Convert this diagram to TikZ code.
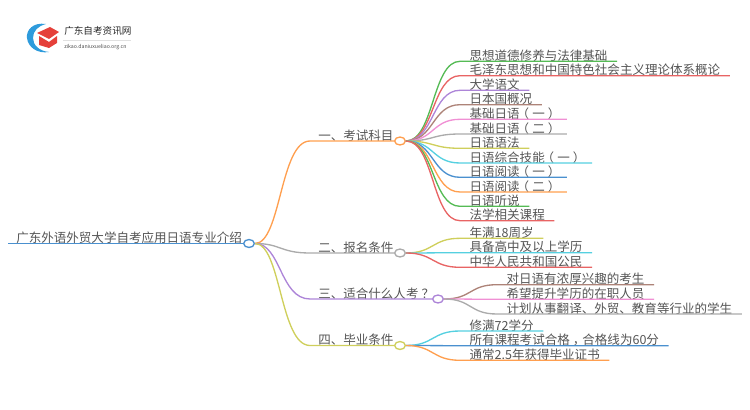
\documentclass[tikz,border=0pt]{standalone}
\usepackage{fontspec}
\usetikzlibrary{shapes.geometric}
\setmainfont{Noto Sans CJK SC}
\definecolor{txtgray}{HTML}{555555}
\definecolor{lorange}{HTML}{FF9F4F}
\definecolor{lgreen}{HTML}{55BB55}
\definecolor{lred}{HTML}{E86464}
\definecolor{lpurple}{HTML}{AD85D8}
\definecolor{lbrown}{HTML}{AD8378}
\definecolor{lpink}{HTML}{F090D4}
\definecolor{lgray}{HTML}{ABABAB}
\definecolor{lyellow}{HTML}{CFCF5C}
\definecolor{lcyan}{HTML}{55D0E0}
\definecolor{lblue}{HTML}{4A90CF}
\definecolor{logoblue}{HTML}{2E9BDC}
\definecolor{logored}{HTML}{E5403A}
\newcommand{\lpar}{\kern-.25em （\kern.25em }
\newcommand{\rpar}{\kern.25em ）\kern-.25em }
\newcommand{\qmark}{\kern.25em ？\kern-.25em }
\newcommand{\cmark}{\kern.25em ，\kern-.25em }
\tikzset{
  item/.style={anchor=south west, inner xsep=7pt, inner ysep=0pt, text height=8.5pt, text depth=0.5pt,
    text=txtgray, font=\fontsize{9.4pt}{11pt}\selectfont},
  hub/.style={ellipse, draw, fill=white, line width=1pt, minimum width=8pt, minimum height=6pt, inner sep=0pt},
  link/.style={line width=1pt},
}
\begin{document}
\begin{tikzpicture}[x=0.75pt, y=-0.75pt]
   \useasboundingbox (0,0) rectangle (750,410);
   % logo
   \fill[logoblue] (46,24) .. controls (33,22) and (26,30) .. (27,38) .. controls (28,47) and (37,54) .. (49,52)
      .. controls (39,51) and (33,45) .. (33,38) .. controls (33,31) and (38,26) .. (46,24);
   \fill[logored] (37,33) -- (50,27) -- (59,32) -- (49,39) -- cycle;
   \fill[logored] (39,36) -- (49,42) -- (57,36) -- (57,43) -- (49,48) -- (39,45) -- cycle;
   \node[anchor=west, inner sep=0pt, text=black!85, font=\fontsize{7.2pt}{9pt}\selectfont] (logotitle) at (64,31) {广东自考资讯网};
   \draw[black!12, line width=0.4pt] (63,40) -- (131,40);
   \node[anchor=west, inner sep=0pt, text=black!70, font=\fontsize{3.9pt}{5pt}\selectfont] (logourl) at (64,47) {zikao.daniuxueliao.org.cn};
   % root and main branches
   \node[item, inner xsep=6pt] (root) at (8,243.5) {广东外语外贸大学自考应用日语专业介绍};
   \node[item, inner xsep=6pt] (tone) at (310,141) {一、考试科目};
   \node[item, inner xsep=6pt] (ttwo) at (310,253) {二、报名条件};
   \node[item, inner xsep=6pt] (tthree) at (310,299) {三、适合什么人考\qmark};
   \node[item, inner xsep=6pt] (tfour) at (310,345.5) {四、毕业条件};
   \node[hub, draw=lblue] (hroot) at (249,243.5) {};
   \node[hub, draw=lorange] (hone) at (400,141) {};
   \node[hub, draw=lgray] (htwo) at (400,253) {};
   \node[hub, draw=lpurple] (hthree) at (438,299) {};
   \node[hub, draw=lyellow] (hfour) at (400,345.5) {};
   % leaves
   \node[item] (a1) at (460,61.3) {思想道德修养与法律基础};
   \node[item] (a2) at (460,75.7) {毛泽东思想和中国特色社会主义理论体系概论};
   \node[item] (a3) at (460,90.3) {大学语文};
   \node[item] (a4) at (460,104.7) {日本国概况};
   \node[item] (a5) at (460,119.3) {基础日语\lpar 一\rpar};
   \node[item] (a6) at (460,134) {基础日语\lpar 二\rpar};
   \node[item] (a7) at (460,148.3) {日语语法};
   \node[item] (a8) at (460,163) {日语综合技能\lpar 一\rpar};
   \node[item] (a9) at (460,177.3) {日语阅读\lpar 一\rpar};
   \node[item] (a10) at (460,192) {日语阅读\lpar 二\rpar};
   \node[item] (a11) at (460,206.3) {日语听说};
   \node[item] (a12) at (460,220.7) {法学相关课程};
   \node[item] (b1) at (460,238.3) {年满18周岁};
   \node[item] (b2) at (460,252.7) {具备高中及以上学历};
   \node[item] (b3) at (460,267.3) {中华人民共和国公民};
   \node[item] (c1) at (497,284.7) {对日语有浓厚兴趣的考生};
   \node[item] (c2) at (497,299.3) {希望提升学历的在职人员};
   \node[item] (c3) at (497,314) {计划从事翻译、外贸、教育等行业的学生};
   \node[item] (d1) at (460,331) {修满72学分};
   \node[item] (d2) at (460,345.7) {所有课程考试合格\cmark 合格线为60分};
   \node[item] (d3) at (460,360.3) {通常2.5年获得毕业证书};
   % connectors
   \draw[link, lblue] (root.south west) -- (hroot.west);
   \draw[link, lorange] (hroot.east) .. controls +(26,0) and +(-30,0) .. (tone.south west) -- (hone.west);
   \draw[link, lgray] (hroot.east) .. controls +(26,0) and +(-30,0) .. (ttwo.south west) -- (htwo.west);
   \draw[link, lpurple] (hroot.east) .. controls +(26,0) and +(-30,0) .. (tthree.south west) -- (hthree.west);
   \draw[link, lyellow] (hroot.east) .. controls +(26,0) and +(-30,0) .. (tfour.south west) -- (hfour.west);
   \draw[link, lgreen] (hone.east) .. controls +(28,0) and +(-28,0) .. (a1.south west) -- (a1.south east);
   \draw[link, lred] (hone.east) .. controls +(28,0) and +(-28,0) .. (a2.south west) -- (a2.south east);
   \draw[link, lpurple] (hone.east) .. controls +(28,0) and +(-28,0) .. (a3.south west) -- (a3.south east);
   \draw[link, lbrown] (hone.east) .. controls +(28,0) and +(-28,0) .. (a4.south west) -- (a4.south east);
   \draw[link, lpink] (hone.east) .. controls +(28,0) and +(-28,0) .. (a5.south west) -- (a5.south east);
   \draw[link, lgray] (hone.east) .. controls +(28,0) and +(-28,0) .. (a6.south west) -- (a6.south east);
   \draw[link, lyellow] (hone.east) .. controls +(28,0) and +(-28,0) .. (a7.south west) -- (a7.south east);
   \draw[link, lcyan] (hone.east) .. controls +(28,0) and +(-28,0) .. (a8.south west) -- (a8.south east);
   \draw[link, lblue] (hone.east) .. controls +(28,0) and +(-28,0) .. (a9.south west) -- (a9.south east);
   \draw[link, lorange] (hone.east) .. controls +(28,0) and +(-28,0) .. (a10.south west) -- (a10.south east);
   \draw[link, lgreen] (hone.east) .. controls +(28,0) and +(-28,0) .. (a11.south west) -- (a11.south east);
   \draw[link, lred] (hone.east) .. controls +(28,0) and +(-28,0) .. (a12.south west) -- (a12.south east);
   \draw[link, lyellow] (htwo.east) .. controls +(28,0) and +(-28,0) .. (b1.south west) -- (b1.south east);
   \draw[link, lcyan] (htwo.east) .. controls +(28,0) and +(-28,0) .. (b2.south west) -- (b2.south east);
   \draw[link, lred] (htwo.east) .. controls +(28,0) and +(-28,0) .. (b3.south west) -- (b3.south east);
   \draw[link, lbrown] (hthree.east) .. controls +(28,0) and +(-28,0) .. (c1.south west) -- (c1.south east);
   \draw[link, lpink] (hthree.east) .. controls +(28,0) and +(-28,0) .. (c2.south west) -- (c2.south east);
   \draw[link, lgray] (hthree.east) .. controls +(28,0) and +(-28,0) .. (c3.south west) -- (c3.south east);
   \draw[link, lcyan] (hfour.east) .. controls +(28,0) and +(-28,0) .. (d1.south west) -- (d1.south east);
   \draw[link, lblue] (hfour.east) .. controls +(28,0) and +(-28,0) .. (d2.south west) -- (d2.south east);
   \draw[link, lorange] (hfour.east) .. controls +(28,0) and +(-28,0) .. (d3.south west) -- (d3.south east);
\end{tikzpicture}
\end{document}
